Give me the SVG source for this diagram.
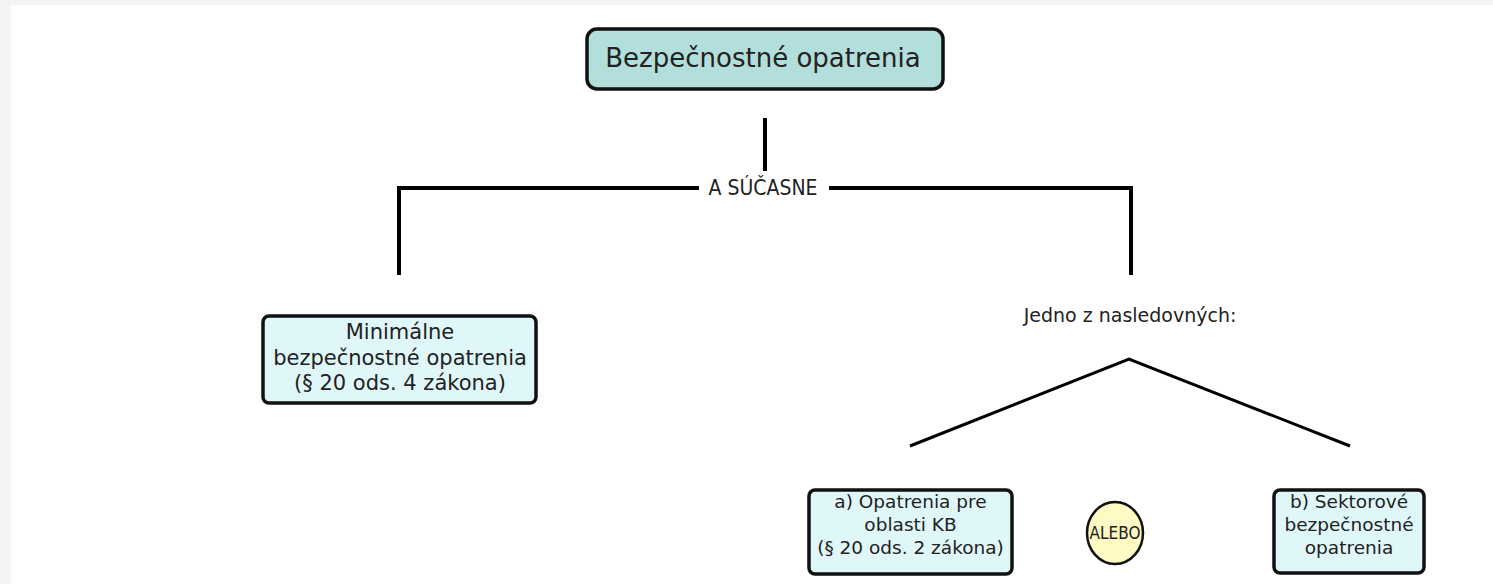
<svg xmlns="http://www.w3.org/2000/svg" width="1493" height="584" viewBox="0 0 1493 584">
<style>
.t{font-family:"DejaVu Sans","Liberation Sans",sans-serif;fill:#222;text-anchor:middle}
.c{font-family:"DejaVu Sans Condensed","DejaVu Sans",sans-serif}
.box{stroke:#111;stroke-width:3.5}
.conn{fill:none;stroke:#000;stroke-width:4}
</style>
<rect x="0" y="0" width="1493" height="584" fill="#f4f4f4"/>
<rect x="11" y="5" width="1482" height="579" fill="#ffffff"/>
<g id="connectors">
<line class="conn" x1="765" y1="118" x2="765" y2="171"/>
<path class="conn" d="M399,275 V188 H699"/>
<path class="conn" d="M829,188 H1131 V275"/>
<text class="t c" x="763" y="195" font-size="21">A SÚČASNE</text>
<polyline points="910,446 1129,359 1350,446" fill="none" stroke="#000" stroke-width="3"/>
<text class="t" x="1130" y="322" font-size="19">Jedno z nasledovných:</text>
</g>
<g id="root">
<rect class="box" x="587" y="29" width="356" height="60" rx="10" fill="#b2dfdb"/>
<text class="t" x="763" y="67" font-size="26">Bezpečnostné opatrenia</text>
</g>
<g id="minimalne">
<rect class="box" x="263" y="316" width="273" height="87" rx="6" fill="#e0f7fa"/>
<text class="t" x="400" y="339" font-size="21">Minimálne</text>
<text class="t" x="400" y="365" font-size="21">bezpečnostné opatrenia</text>
<text class="t" x="400" y="390" font-size="21">(§ 20 ods. 4 zákona)</text>
</g>
<g id="opatrenia-kb">
<rect class="box" x="809" y="490" width="203" height="84" rx="6" fill="#e0f7fa"/>
<text class="t" x="910.5" y="508" font-size="18.5">a) Opatrenia pre</text>
<text class="t" x="910.5" y="531" font-size="18.5">oblasti KB</text>
<text class="t" x="910.5" y="554" font-size="18.5">(§ 20 ods. 2 zákona)</text>
</g>
<g id="alebo">
<ellipse cx="1115" cy="533" rx="28" ry="31" fill="#fff9c4" stroke="#111" stroke-width="2.5"/>
<text class="t c" x="1115" y="539" font-size="17">ALEBO</text>
</g>
<g id="sektorove">
<rect class="box" x="1274" y="490" width="150" height="83" rx="6" fill="#e0f7fa"/>
<text class="t" x="1349" y="508" font-size="18.5">b) Sektorové</text>
<text class="t" x="1349" y="531" font-size="18.5">bezpečnostné</text>
<text class="t" x="1349" y="554" font-size="18.5">opatrenia</text>
</g>
</svg>
